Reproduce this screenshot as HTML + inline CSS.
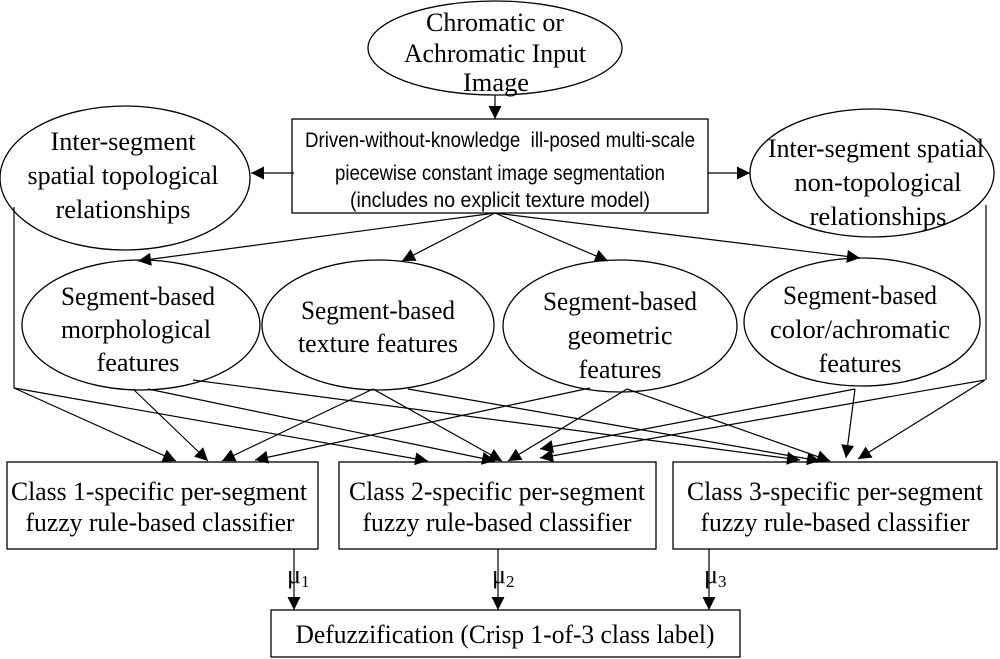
<!DOCTYPE html>
<html><head><meta charset="utf-8"><style>
html,body{margin:0;padding:0;background:#fff;}
svg{display:block;}
.s{font-family:"Liberation Serif",serif;font-size:26px;fill:#000;}
.a{font-family:"Liberation Sans",sans-serif;font-size:21px;fill:#000;}
</style></head><body>
<svg width="1000" height="659" viewBox="0 0 1000 659" xmlns="http://www.w3.org/2000/svg">
<defs>
<marker id="b" viewBox="0 0 10 10" refX="10" refY="5" markerWidth="18" markerHeight="13" markerUnits="userSpaceOnUse" orient="auto"><path d="M0,0 L10,5 L0,10 z" fill="#000"/></marker>
</defs>
<g fill="none" stroke="#000" stroke-width="1.3">
<ellipse cx="495" cy="48" rx="127" ry="47"/>
<rect x="292" y="119" width="416" height="94"/>
<ellipse cx="125" cy="178" rx="125" ry="72"/>
<ellipse cx="872" cy="173" rx="122" ry="64"/>
<ellipse cx="141" cy="325" rx="119" ry="65"/>
<ellipse cx="378" cy="325" rx="116" ry="65"/>
<ellipse cx="620" cy="326" rx="117" ry="66"/>
<ellipse cx="862" cy="322" rx="118" ry="64"/>
<rect x="7" y="462" width="311" height="87"/>
<rect x="339" y="462" width="317" height="87"/>
<rect x="673" y="462" width="324" height="87"/>
<rect x="271" y="610" width="469" height="47"/>
</g>
<g fill="none" stroke="#000" stroke-width="1.2" marker-end="url(#b)">
<line x1="495" y1="95" x2="495" y2="119"/>
<line x1="294" y1="173" x2="251" y2="173"/>
<line x1="708" y1="173" x2="750" y2="173"/>
<line x1="495" y1="213" x2="138" y2="261"/>
<line x1="495" y1="213" x2="402" y2="261"/>
<line x1="495" y1="213" x2="608" y2="261"/>
<line x1="495" y1="213" x2="860" y2="258"/>
<line x1="14" y1="388" x2="176" y2="461"/>
<line x1="133" y1="389" x2="208" y2="461"/>
<line x1="373" y1="389" x2="222" y2="461"/>
<line x1="590" y1="388" x2="255" y2="460"/>
<line x1="14" y1="388" x2="428" y2="461"/>
<line x1="148" y1="389" x2="495" y2="461"/>
<line x1="373" y1="389" x2="502" y2="461"/>
<line x1="627" y1="389" x2="508" y2="461"/>
<line x1="855" y1="389" x2="540" y2="449"/>
<line x1="985" y1="380" x2="540" y2="458"/>
<line x1="193" y1="380" x2="800" y2="460"/>
<line x1="408" y1="389" x2="820" y2="461"/>
<line x1="627" y1="389" x2="830" y2="461"/>
<line x1="855" y1="389" x2="846" y2="458"/>
<line x1="985" y1="380" x2="858" y2="459"/>
<line x1="294" y1="549" x2="294" y2="610"/>
<line x1="498" y1="549" x2="498" y2="610"/>
<line x1="709" y1="549" x2="709" y2="610"/>
</g>
<g stroke="#000" stroke-width="1.2" fill="none">
<polyline points="14,207 14,388"/>
<polyline points="986,205 986,380"/>
</g>
<g class="s" text-anchor="middle" lengthAdjust="spacingAndGlyphs">
<text x="495" y="31" textLength="138" lengthAdjust="spacingAndGlyphs">Chromatic or</text>
<text x="495" y="62" textLength="182" lengthAdjust="spacingAndGlyphs">Achromatic Input</text>
<text x="496" y="91" textLength="66" lengthAdjust="spacingAndGlyphs">Image</text>
<text x="123" y="150" textLength="145" lengthAdjust="spacingAndGlyphs">Inter-segment</text>
<text x="123" y="184" textLength="191" lengthAdjust="spacingAndGlyphs">spatial topological</text>
<text x="123" y="218" textLength="135" lengthAdjust="spacingAndGlyphs">relationships</text>
<text x="876" y="157" textLength="216" lengthAdjust="spacingAndGlyphs">Inter-segment spatial</text>
<text x="878" y="191" textLength="167" lengthAdjust="spacingAndGlyphs">non-topological</text>
<text x="878" y="225" textLength="137" lengthAdjust="spacingAndGlyphs">relationships</text>
<text x="138" y="305" textLength="154" lengthAdjust="spacingAndGlyphs">Segment-based</text>
<text x="136" y="338" textLength="150" lengthAdjust="spacingAndGlyphs">morphological</text>
<text x="138" y="371" textLength="83" lengthAdjust="spacingAndGlyphs">features</text>
<text x="378" y="319" textLength="154" lengthAdjust="spacingAndGlyphs">Segment-based</text>
<text x="378" y="352" textLength="160" lengthAdjust="spacingAndGlyphs">texture features</text>
<text x="620" y="310" textLength="154" lengthAdjust="spacingAndGlyphs">Segment-based</text>
<text x="620" y="344" textLength="105" lengthAdjust="spacingAndGlyphs">geometric</text>
<text x="620" y="378" textLength="83" lengthAdjust="spacingAndGlyphs">features</text>
<text x="860" y="304" textLength="154" lengthAdjust="spacingAndGlyphs">Segment-based</text>
<text x="860" y="338" textLength="180" lengthAdjust="spacingAndGlyphs">color/achromatic</text>
<text x="860" y="372" textLength="83" lengthAdjust="spacingAndGlyphs">features</text>
<text x="159" y="500" textLength="296" lengthAdjust="spacingAndGlyphs">Class 1-specific per-segment</text>
<text x="160" y="531" textLength="269" lengthAdjust="spacingAndGlyphs">fuzzy rule-based classifier</text>
<text x="497" y="500" textLength="296" lengthAdjust="spacingAndGlyphs">Class 2-specific per-segment</text>
<text x="497" y="531" textLength="269" lengthAdjust="spacingAndGlyphs">fuzzy rule-based classifier</text>
<text x="835" y="500" textLength="296" lengthAdjust="spacingAndGlyphs">Class 3-specific per-segment</text>
<text x="835" y="531" textLength="269" lengthAdjust="spacingAndGlyphs">fuzzy rule-based classifier</text>
<text x="505" y="643" textLength="419" lengthAdjust="spacingAndGlyphs">Defuzzification (Crisp 1-of-3 class label)</text>
</g>
<g class="s" font-size="26">
<text x="287" y="583">μ<tspan font-size="17" dy="4">1</tspan></text>
<text x="492" y="583">μ<tspan font-size="17" dy="4">2</tspan></text>
<text x="704" y="583">μ<tspan font-size="17" dy="4">3</tspan></text>
</g>
<g class="a" text-anchor="middle">
<text x="500" y="147" textLength="390" lengthAdjust="spacingAndGlyphs" xml:space="preserve">Driven-without-knowledge  ill-posed multi-scale</text>
<text x="500" y="180" textLength="330" lengthAdjust="spacingAndGlyphs">piecewise constant image segmentation</text>
<text x="500" y="207" textLength="300" lengthAdjust="spacingAndGlyphs">(includes no explicit texture model)</text>
</g>
</svg>
</body></html>
